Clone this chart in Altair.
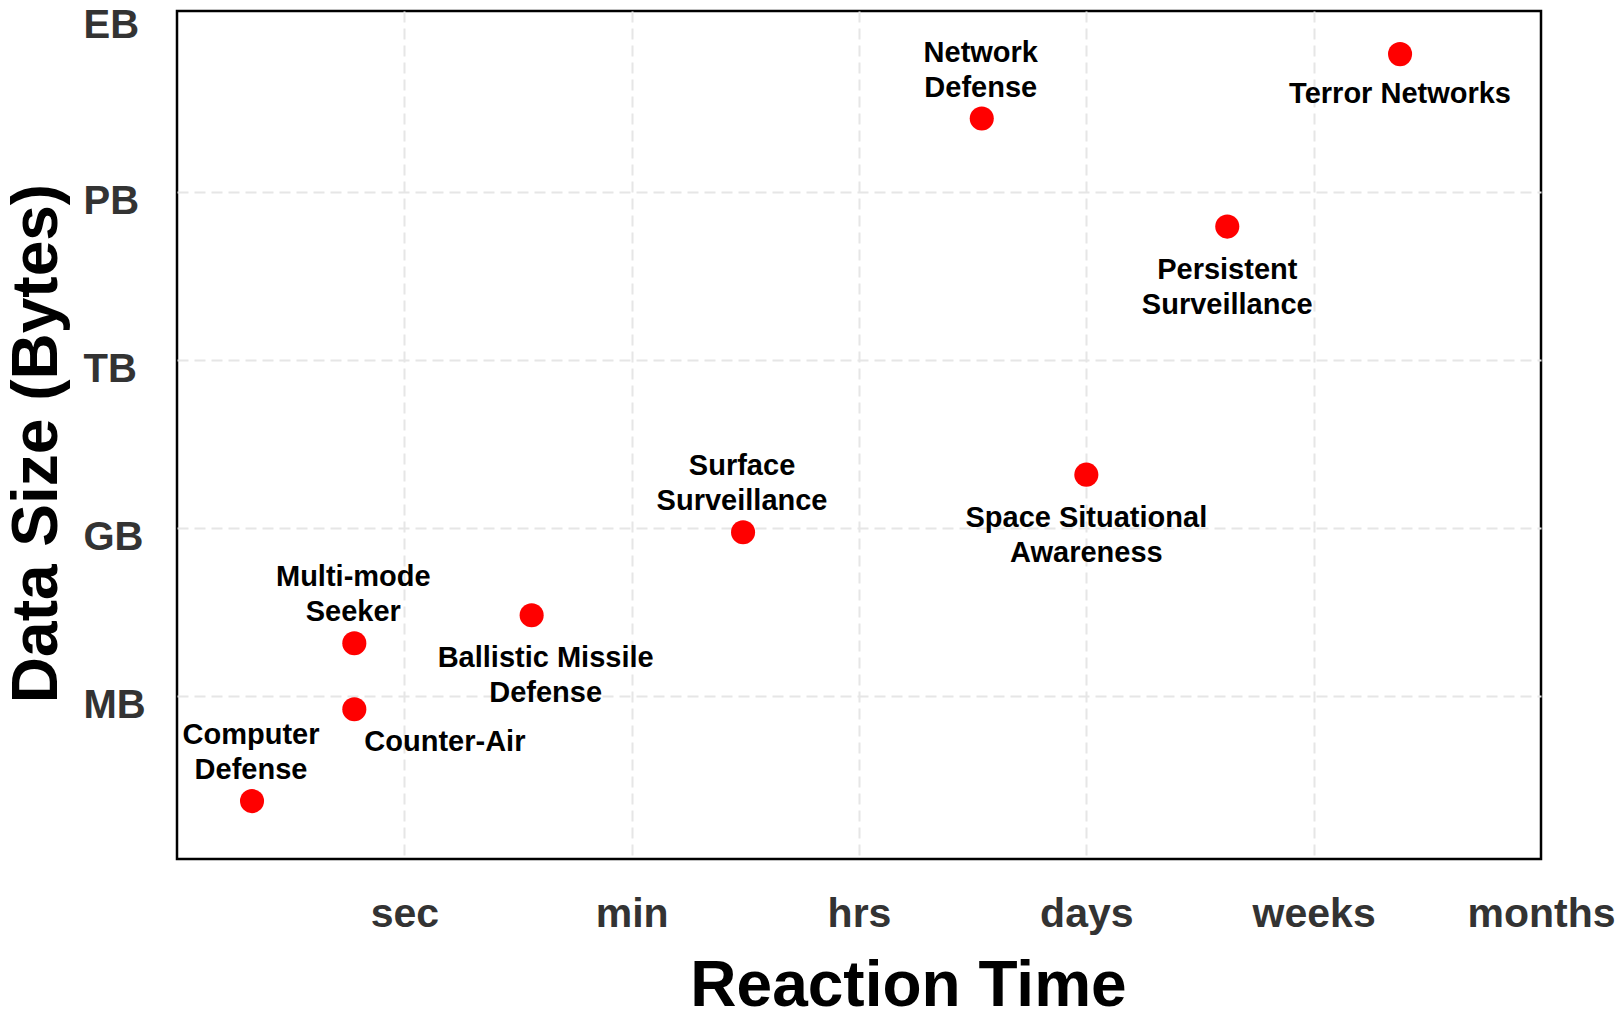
import altair as alt
import pandas as pd

# ---- data ----
names = ["Computer\nDefense", "Counter-Air", "Multi-mode\nSeeker",
         "Ballistic Missile\nDefense", "Surface\nSurveillance",
         "Space Situational\nAwareness", "Persistent\nSurveillance",
         "Network\nDefense", "Terror Networks"]
reaction = [0.33, 0.78, 0.78, 1.56, 2.49, 4.00, 4.62, 3.54, 5.38]
data_size = [4.12, 5.76, 6.94, 7.44, 8.92, 9.95, 14.38, 16.31, 17.46]
placement = ["above", "right", "above", "below_r", "above", "below",
             "below", "above", "below_t"]

x_tick_values = [1, 2, 3, 4, 5, 6]
x_tick_labels = ["sec", "min", "hrs", "days", "weeks", "months"]
y_tick_values = [6, 9, 12, 15, 18.23]
y_tick_labels = ["MB", "GB", "TB", "PB", "EB"]

df = pd.DataFrame({"name": names, "reaction": reaction,
                   "size": data_size, "placement": placement})


def label_expr(values, labels):
    expr = "''"
    for v, l in reversed(list(zip(values, labels))):
        expr = f"abs(datum.value - {v}) < 0.01 ? '{l}' : ({expr})"
    return expr


FONT = "Liberation Sans"
grid_kw = dict(grid=True, gridDash=[11, 6], gridColor="#e6e6e6", gridWidth=2,
               domain=False, ticks=False, tickSize=0, labelFlush=False,
               labelFont=FONT, labelFontWeight="bold", labelColor="#333333",
               titleFont=FONT, titleFontWeight="bold", titleColor="black",
               titleFontSize=64)

x_enc = alt.X("reaction:Q",
              scale=alt.Scale(domain=[0, 6], nice=False, zero=False),
              axis=alt.Axis(values=x_tick_values,
                            labelExpr=label_expr(x_tick_values, x_tick_labels),
                            title="Reaction Time", labelFontSize=41,
                            labelPadding=67, labelBaseline="alphabetic",
                            gridOpacity=alt.condition("datum.value > 5.9",
                                                      alt.value(0), alt.value(1)),
                            titleX=731, titleY=146, titleBaseline="alphabetic",
                            titleAlign="center", **grid_kw))
y_enc = alt.Y("size:Q",
              scale=alt.Scale(domain=[3.086, 18.23], nice=False, zero=False),
              axis=alt.Axis(values=y_tick_values,
                            labelExpr=label_expr(y_tick_values, y_tick_labels),
                            title="Data Size (Bytes)", labelFontSize=40,
                            labelAlign="left", labelPadding=94,
                            labelBaseline="alphabetic",
                            labelOffset=alt.condition("datum.value > 18",
                                                      alt.value(26.5), alt.value(21.5)),
                            gridOpacity=alt.condition("datum.value > 18",
                                                      alt.value(0), alt.value(1)),
                            titleAngle=270, titleX=-121, titleY=432,
                            titleBaseline="alphabetic", titleAlign="center",
                            **grid_kw))

base = alt.Chart(df).encode(x=x_enc, y=y_enc)

points = base.mark_circle(color="#ff0000", opacity=1, size=580)

txt_kw = dict(font=FONT, fontWeight="bold", fontSize=29, color="black",
              lineBreak="\n", lineHeight=35)

above = base.transform_filter(alt.datum.placement == "above").mark_text(
    align="center", baseline="alphabetic", dx=-1, dy=-57, **txt_kw
).encode(text="name:N")
below = base.transform_filter(alt.datum.placement == "below").mark_text(
    align="center", baseline="top", dx=0, dy=29, **txt_kw
).encode(text="name:N")
below_t = base.transform_filter(alt.datum.placement == "below_t").mark_text(
    align="center", baseline="top", dx=0, dy=26, **txt_kw
).encode(text="name:N")
below_r = base.transform_filter(alt.datum.placement == "below_r").mark_text(
    align="center", baseline="top", dx=14, dy=29, **txt_kw
).encode(text="name:N")
right = base.transform_filter(alt.datum.placement == "right").mark_text(
    align="left", baseline="alphabetic", dx=10, dy=42, **txt_kw
).encode(text="name:N")

chart = alt.layer(points, above, below, below_t, below_r, right).properties(
    width=1364, height=848,
    autosize=alt.AutoSizeParams(type="none"),
    padding={"left": 169, "top": 3, "right": 74, "bottom": 154},
).configure_view(stroke="black", strokeWidth=2.5)

chart.save("out.html", embed_options={"renderer": "svg", "actions": False})
